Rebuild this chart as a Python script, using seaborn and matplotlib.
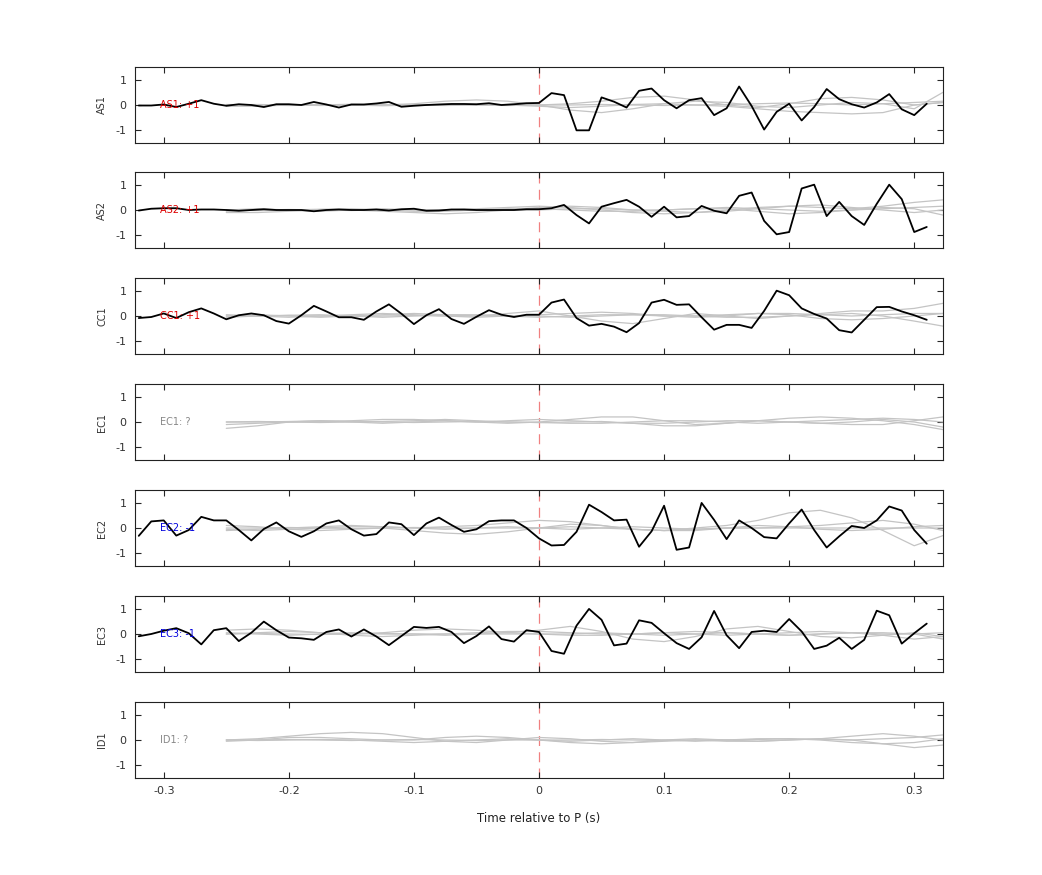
import numpy as np
import pandas as pd
import matplotlib
matplotlib.use("Agg")
import matplotlib.pyplot as plt
import seaborn as sns

channels = ["AS1", "AS2", "CC1", "EC1", "EC2", "EC3", "ID1"]
annotations = ["AS1: +1", "AS2: +1", "CC1: +1", "EC1: ?", "EC2: -1", "EC3: -1", "ID1: ?"]
annot_colors = ["#dd0000", "#dd0000", "#dd0000", "#888888", "#0000dd", "#0000dd", "#888888"]

time_black = np.round(np.arange(-32, 32) / 100.0, 2)

as1 = [-0.02, -0.02, 0.02, -0.08, 0.05, 0.19, 0.05, -0.03, 0.03, 0.0, -0.08, 0.03, 0.03, 0.0, 0.12, 0.02,
       -0.1, 0.02, 0.02, 0.06, 0.12, -0.07, -0.03, 0.0, 0.02, 0.04, 0.04, 0.03, 0.07, 0.0, 0.03, 0.07,
       0.08, 0.47, 0.39, -1.0, -1.0, 0.3, 0.13, -0.1, 0.56, 0.65, 0.19, -0.13, 0.19, 0.27, -0.4, -0.13,
       0.73, -0.04, -0.97, -0.27, 0.05, -0.61, -0.08, 0.63, 0.23, 0.03, -0.1, 0.1, 0.43, -0.17, -0.4, 0.05]
as2 = [-0.02, 0.05, 0.07, 0.07, 0.0, 0.02, 0.02, 0.0, -0.03, 0.0, 0.03, 0.0, 0.0, 0.0, -0.05, 0.0,
       0.02, 0.0, 0.0, 0.02, -0.02, 0.03, 0.05, -0.03, -0.02, 0.02, 0.02, 0.0, 0.0, 0.0, 0.0, 0.03,
       0.03, 0.07, 0.2, -0.2, -0.53, 0.13, 0.27, 0.4, 0.13, -0.27, 0.13, -0.29, -0.24, 0.16, -0.03, -0.13,
       0.56, 0.69, -0.43, -0.96, -0.87, 0.85, 1.0, -0.24, 0.32, -0.24, -0.59, 0.24, 1.0, 0.43, -0.87, -0.67]
cc1 = [-0.08, -0.04, 0.1, -0.08, 0.15, 0.3, 0.1, -0.13, 0.03, 0.1, 0.03, -0.2, -0.3, 0.03, 0.4, 0.18,
       -0.05, -0.05, -0.15, 0.18, 0.46, 0.09, -0.32, 0.03, 0.27, -0.12, -0.31, -0.03, 0.23, 0.05, -0.04, 0.05,
       0.05, 0.53, 0.65, -0.08, -0.38, -0.31, -0.42, -0.64, -0.28, 0.53, 0.64, 0.44, 0.46, -0.05, -0.54, -0.35,
       -0.35, -0.47, 0.2, 1.0, 0.82, 0.3, 0.08, -0.1, -0.56, -0.65, -0.15, 0.35, 0.36, 0.18, 0.03, -0.15]
ec2 = [-0.31, 0.26, 0.3, -0.3, -0.08, 0.44, 0.3, 0.3, -0.08, -0.49, -0.04, 0.22, -0.13, -0.35, -0.13, 0.18,
       0.3, -0.05, -0.3, -0.24, 0.22, 0.15, -0.28, 0.18, 0.41, 0.12, -0.15, -0.05, 0.27, 0.3, 0.3, 0.0,
       -0.41, -0.69, -0.67, -0.15, 0.92, 0.63, 0.3, 0.33, -0.74, -0.13, 0.88, -0.86, -0.77, 0.99, 0.32, -0.44,
       0.3, 0.0, -0.36, -0.41, 0.18, 0.73, -0.08, -0.77, -0.33, 0.08, 0.0, 0.3, 0.85, 0.69, -0.08, -0.62]
ec3 = [-0.09, 0.0, 0.13, 0.23, 0.03, -0.41, 0.15, 0.23, -0.28, 0.05, 0.49, 0.15, -0.14, -0.17, -0.23, 0.08,
       0.18, -0.1, 0.18, -0.1, -0.44, -0.08, 0.28, 0.24, 0.28, 0.08, -0.36, -0.08, 0.3, -0.2, -0.3, 0.15,
       0.08, -0.67, -0.78, 0.33, 0.99, 0.56, -0.45, -0.38, 0.54, 0.44, 0.03, -0.36, -0.59, -0.13, 0.91, -0.05,
       -0.56, 0.08, 0.13, 0.08, 0.59, 0.1, -0.59, -0.46, -0.15, -0.59, -0.23, 0.92, 0.74, -0.38, 0.03, 0.41]
black_traces = {"AS1": as1, "AS2": as2, "CC1": cc1, "EC2": ec2, "EC3": ec3}

time_grey = [-0.25, -0.225, -0.2, -0.175, -0.15, -0.125, -0.1, -0.075, -0.05, -0.025, 0.0, 0.025, 0.05,
             0.075, 0.1, 0.125, 0.15, 0.175, 0.2, 0.225, 0.25, 0.275, 0.3, 0.323]
grey_traces = {
    "AS1": [[0.0, 0.0, 0.0, 0.0, 0.0, 0.0, 0.05, 0.15, 0.2, 0.15, 0.0, -0.2, -0.3, -0.15, 0.05, 0.15, 0.1, -0.05, -0.1, 0.0, 0.1, 0.05, -0.15, 0.5],
            [-0.05, -0.05, 0.0, 0.02, 0.0, -0.03, 0.0, 0.03, 0.0, -0.02, 0.0, 0.05, 0.15, 0.3, 0.35, 0.2, 0.0, -0.1, 0.05, 0.25, 0.3, 0.2, 0.0, 0.1],
            [0.02, 0.0, -0.02, 0.0, 0.03, 0.0, -0.02, 0.0, 0.02, 0.0, -0.05, -0.1, -0.05, 0.02, 0.05, 0.0, -0.05, -0.15, -0.25, -0.3, -0.35, -0.3, 0.0, 0.1],
            [0.0, 0.02, 0.0, -0.02, 0.0, 0.02, 0.0, -0.02, 0.0, 0.02, 0.0, 0.0, 0.02, 0.0, -0.02, 0.0, 0.02, 0.05, 0.08, 0.05, 0.0, 0.05, 0.1, 0.15]],
    "AS2": [[-0.1, -0.1, -0.05, 0.0, 0.0, -0.05, -0.1, -0.15, -0.1, 0.0, 0.1, 0.15, 0.1, 0.0, -0.05, -0.1, -0.05, 0.05, 0.15, 0.2, 0.1, 0.0, -0.1, 0.0],
            [0.0, 0.05, 0.0, -0.05, 0.0, 0.05, 0.0, 0.0, 0.05, 0.1, 0.15, 0.1, 0.0, -0.1, -0.15, -0.1, 0.0, 0.1, 0.15, 0.1, 0.05, 0.15, 0.3, 0.4],
            [0.0, -0.02, 0.0, 0.03, 0.05, 0.0, -0.05, -0.05, 0.0, 0.05, 0.05, 0.0, -0.05, -0.05, 0.0, 0.05, 0.05, -0.05, -0.15, -0.1, 0.0, 0.05, 0.1, 0.15],
            [-0.05, 0.0, 0.02, 0.0, -0.02, 0.0, 0.02, 0.0, -0.02, 0.0, 0.0, 0.05, 0.05, 0.0, 0.0, 0.05, 0.1, 0.05, 0.0, -0.05, 0.0, 0.1, 0.05, -0.2]],
    "CC1": [[0.0, 0.05, 0.0, -0.05, 0.0, 0.05, 0.1, 0.05, 0.0, 0.1, 0.2, 0.0, -0.2, -0.3, -0.1, 0.1, 0.0, -0.1, 0.0, 0.1, 0.2, 0.2, 0.3, 0.5],
            [0.05, 0.0, -0.05, 0.0, 0.05, 0.1, 0.05, 0.0, -0.05, 0.0, 0.05, 0.1, 0.15, 0.1, 0.0, -0.05, 0.0, 0.1, 0.05, -0.1, -0.15, -0.1, 0.0, 0.1],
            [0.0, 0.0, 0.02, 0.0, -0.02, 0.0, 0.02, 0.0, 0.0, 0.02, 0.0, -0.05, 0.0, 0.05, 0.05, 0.0, -0.05, -0.05, 0.0, 0.05, 0.1, 0.0, -0.2, -0.4],
            [-0.05, 0.0, 0.03, 0.05, 0.0, -0.05, 0.0, 0.05, 0.05, 0.0, -0.05, 0.0, 0.05, 0.05, 0.0, 0.0, 0.05, 0.1, 0.1, 0.05, 0.0, 0.05, 0.1, 0.1]],
    "EC1": [[-0.25, -0.15, 0.0, 0.05, 0.0, -0.05, 0.0, 0.05, 0.0, -0.05, 0.0, 0.1, 0.2, 0.2, 0.05, -0.1, -0.05, 0.05, 0.15, 0.2, 0.15, 0.05, -0.1, -0.3],
            [-0.1, -0.05, 0.0, 0.02, 0.05, 0.1, 0.1, 0.05, 0.0, 0.05, 0.1, 0.05, 0.0, -0.05, -0.05, 0.0, 0.05, 0.05, 0.0, -0.05, 0.0, 0.1, 0.0, -0.2],
            [0.0, 0.0, 0.02, 0.05, 0.02, 0.0, -0.02, 0.0, 0.02, 0.0, -0.02, -0.05, -0.05, 0.0, 0.05, 0.05, 0.0, -0.05, 0.0, 0.05, 0.1, 0.15, 0.1, 0.0],
            [0.0, 0.02, 0.0, -0.02, 0.0, 0.02, 0.05, 0.1, 0.05, 0.0, -0.02, 0.0, 0.02, -0.05, -0.15, -0.15, -0.05, 0.05, 0.0, -0.05, -0.1, -0.1, 0.05, 0.2]],
    "EC2": [[0.1, 0.05, -0.05, -0.1, -0.05, 0.0, -0.1, -0.2, -0.25, -0.15, 0.0, 0.15, 0.1, -0.05, -0.1, 0.0, 0.1, 0.3, 0.6, 0.7, 0.4, -0.1, -0.7, -0.3],
            [-0.1, -0.05, 0.0, 0.05, 0.1, 0.05, 0.0, 0.05, 0.1, 0.2, 0.3, 0.25, 0.1, -0.05, -0.1, -0.05, 0.0, 0.0, 0.05, 0.1, 0.2, 0.3, 0.15, -0.1],
            [0.0, 0.0, 0.02, 0.0, -0.02, 0.0, 0.02, 0.0, 0.0, 0.0, 0.0, 0.05, 0.0, -0.05, -0.1, -0.1, 0.0, 0.1, 0.05, -0.05, -0.1, -0.05, 0.05, 0.1],
            [-0.05, -0.1, -0.05, 0.0, 0.05, 0.05, 0.0, -0.05, 0.0, 0.05, 0.0, -0.05, 0.0, 0.05, 0.0, -0.05, 0.0, 0.0, 0.0, 0.0, 0.0, 0.0, 0.0, 0.0]],
    "EC3": [[0.15, 0.2, 0.15, 0.05, 0.0, 0.05, 0.15, 0.2, 0.15, 0.05, 0.15, 0.3, 0.1, -0.2, -0.3, -0.1, 0.2, 0.3, 0.1, -0.1, -0.15, -0.05, 0.05, -0.1],
            [0.0, 0.05, 0.1, 0.05, -0.05, -0.1, -0.05, 0.0, 0.05, 0.1, 0.1, 0.05, 0.0, 0.0, 0.05, 0.1, 0.05, 0.0, -0.05, 0.0, 0.05, -0.05, -0.2, -0.1],
            [0.05, 0.0, -0.05, 0.0, 0.05, 0.0, 0.0, -0.05, 0.0, 0.05, 0.0, -0.05, -0.05, 0.0, 0.05, 0.0, -0.05, 0.0, 0.05, 0.1, 0.05, 0.0, 0.0, -0.2],
            [0.0, 0.02, 0.0, -0.02, 0.0, 0.02, 0.0, 0.0, 0.0, 0.0, 0.0, 0.0, 0.05, 0.0, -0.05, 0.0, 0.05, 0.0, -0.05, 0.0, 0.05, 0.05, 0.0, 0.05]],
    "ID1": [[0.0, 0.05, 0.15, 0.25, 0.3, 0.25, 0.1, -0.05, -0.1, 0.0, 0.1, 0.05, -0.05, -0.1, -0.05, 0.0, -0.05, -0.05, 0.0, 0.05, 0.0, -0.15, -0.3, -0.2],
            [-0.05, 0.0, 0.1, 0.1, 0.05, 0.0, 0.0, 0.1, 0.15, 0.1, 0.0, -0.1, -0.15, -0.1, 0.0, 0.05, 0.0, -0.05, 0.0, 0.05, 0.15, 0.25, 0.15, 0.0],
            [0.0, -0.02, 0.0, 0.02, 0.0, -0.05, -0.1, -0.05, 0.0, 0.05, 0.0, -0.05, 0.0, 0.05, 0.0, -0.05, 0.0, 0.05, 0.05, 0.0, -0.1, -0.15, -0.1, 0.05],
            [0.0, 0.0, 0.02, 0.0, -0.02, 0.0, 0.02, 0.0, -0.02, 0.0, 0.0, 0.0, 0.02, 0.0, -0.02, 0.0, 0.0, 0.02, 0.05, 0.02, 0.0, 0.05, 0.1, 0.2]],
}

xticks = [-0.3, -0.2, -0.1, 0, 0.1, 0.2, 0.3]
xticklabels = ["-0.3", "-0.2", "-0.1", "0", "0.1", "0.2", "0.3"]
yticks = [-1, 0, 1]
yticklabels = ["-1", "0", "1"]

sns.set_style("ticks")
plt.rcParams['font.family'] = ['DejaVu Sans']
fig = plt.figure(figsize=(10.42, 8.75), dpi=100)
W, H = 1042, 875
tops = [67, 172, 278, 384, 490, 596, 702]
for i, ch in enumerate(channels):
    top = tops[i]
    ax = fig.add_axes([135 / W, 1 - (top + 76) / H, 808 / W, 76 / H])
    for g in grey_traces[ch]:
        sns.lineplot(x=time_grey, y=g, ax=ax, color="#c4c4c4", linewidth=0.9, estimator=None, sort=False)
    if ch in black_traces:
        sns.lineplot(x=time_black, y=black_traces[ch], ax=ax, color="black", linewidth=1.3, estimator=None, sort=False)
    ax.axvline(0, color="#f08080", linestyle=(0, (8, 5)), linewidth=0.9, zorder=0.5)
    ax.text(-0.303, 0, annotations[i], color=annot_colors[i], fontsize=7, va="center", ha="left")
    ax.set_xlim(-0.323, 0.323)
    ax.set_ylim(-1.5, 1.5)
    ax.set_yticks(yticks)
    ax.set_yticklabels(yticklabels, fontsize=8, color="#333333")
    ax.set_xticks(xticks)
    ax.set_ylabel(ch, fontsize=7, color="#333333", labelpad=6)
    ax.tick_params(direction="in", top=True, right=True, length=4, width=0.8, pad=6)
    for s in ax.spines.values():
        s.set_linewidth(0.8)
        s.set_color("#222222")
    if i == len(channels) - 1:
        ax.set_xticklabels(xticklabels, fontsize=8, color="#333333")
        ax.set_xlabel("Time relative to P (s)", fontsize=8.5, color="#222222", labelpad=11)
    else:
        ax.set_xticklabels([])

fig.savefig("out.png", dpi=100)
